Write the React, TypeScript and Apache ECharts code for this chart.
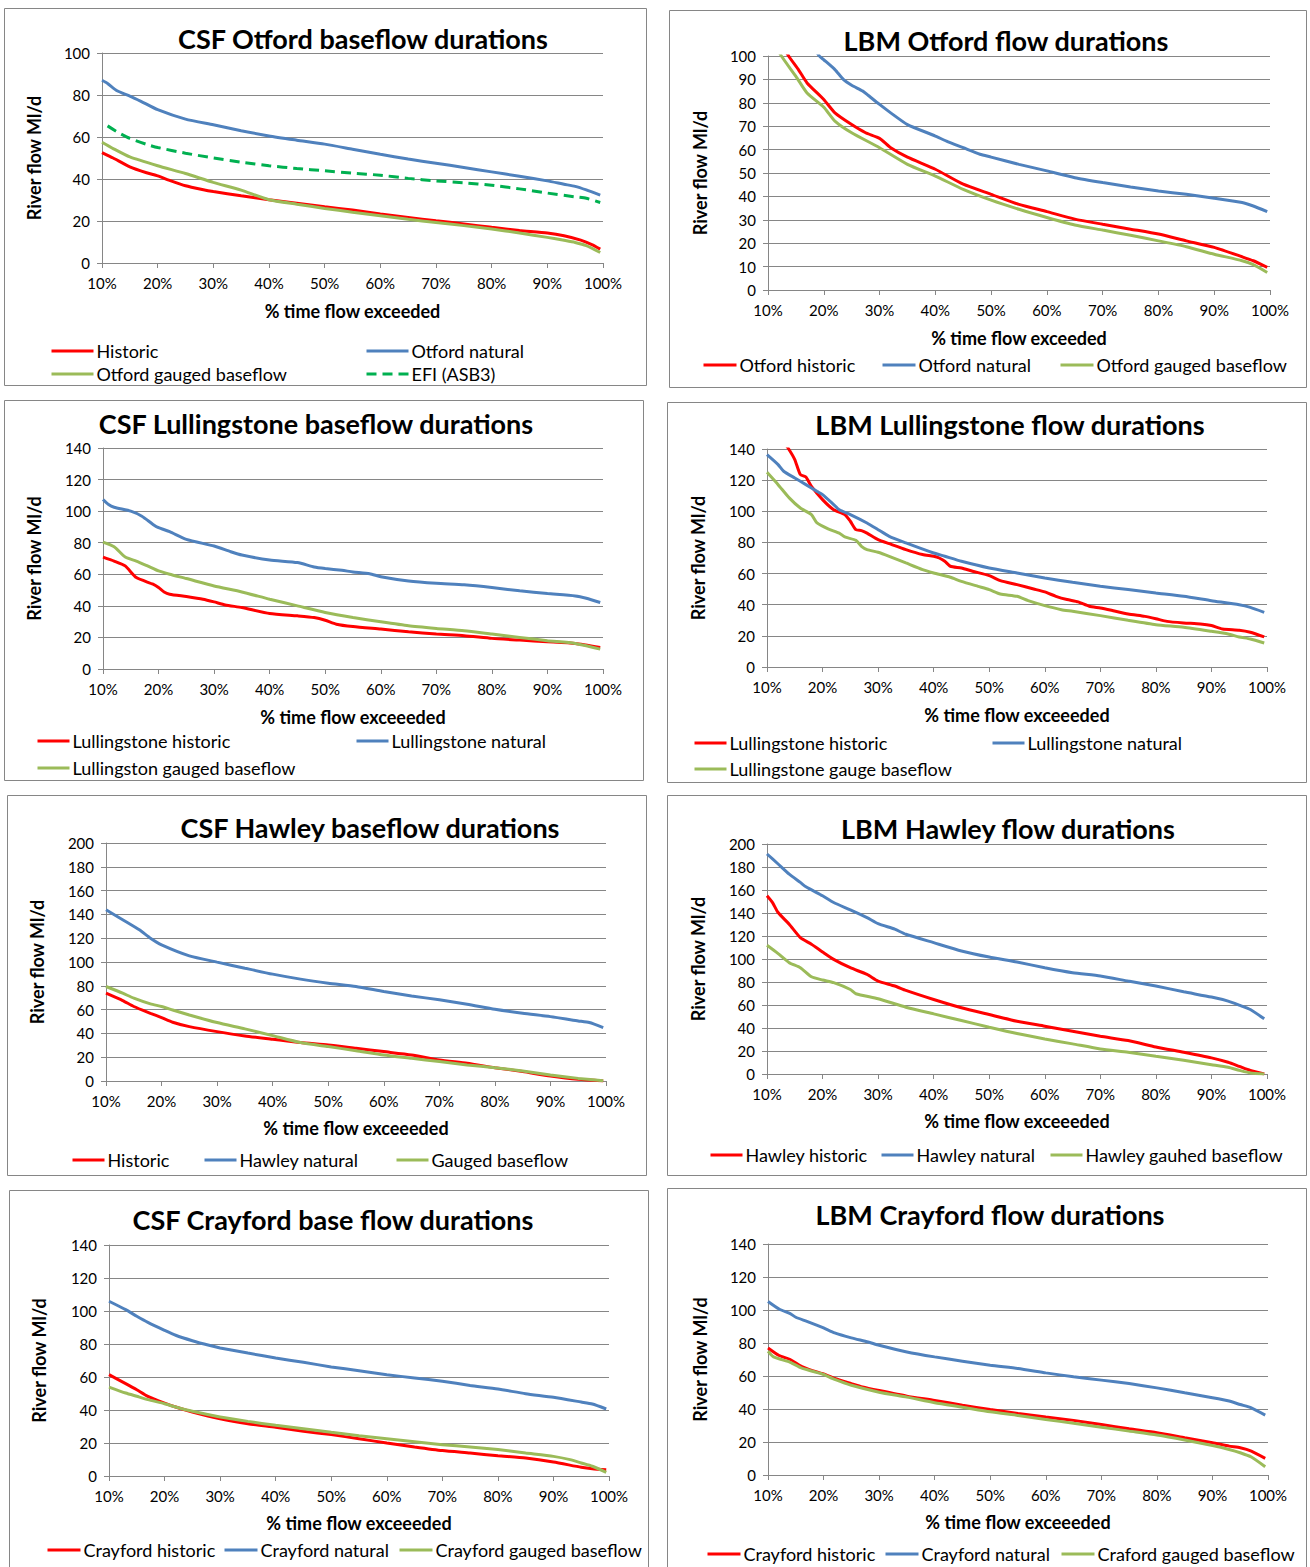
import React, { useEffect, useRef } from "react";
import * as echarts from "echarts";

// ---------- DATA (x = % time flow exceeded, y = river flow Ml/d) ----------
const csfOtfordHistoric = [[10,52.6],[12,50],[15,45.8],[18,43],[20,41.5],[22,39.5],[25,36.8],[28,35],[30,34],[35,32],[40,30.1],[45,28.5],[50,26.8],[55,25.2],[60,23.3],[65,21.7],[70,20.1],[75,18.6],[80,17],[85,15.5],[90,14.3],[93,13],[96,10.9],[98,8.8],[99.5,6.6]];
const csfOtfordNatural = [[10,87],[11,85.5],[12.7,82],[15,79.5],[17,77],[20,73],[25,68.5],[30,65.8],[35,63],[40,60.5],[45,58.5],[50,56.6],[55,54.2],[60,51.8],[65,49.5],[70,47.5],[75,45.5],[80,43.4],[85,41.3],[90,39.1],[93,37.5],[95,36.5],[97,34.8],[99.5,32.3]];
const csfOtfordGauged = [[10,57.5],[12,54.5],[15,50.5],[20,46.3],[25,42.6],[30,38.4],[35,34.7],[40,30.1],[45,28],[50,26],[55,24.2],[60,22.5],[65,20.8],[70,19.3],[75,17.8],[80,16.2],[85,14.3],[90,12.2],[93,10.8],[95,9.8],[97,8.3],[99.5,5]];
const csfOtfordEfi = [[11,65.3],[13,62],[15,59.3],[18,56.5],[20,55],[25,52.3],[30,50],[35,48],[40,46.3],[45,45],[50,43.9],[55,42.8],[60,41.8],[65,40.3],[70,39.1],[75,38.2],[80,37],[85,35.3],[90,33.3],[95,31.5],[97,30.8],[99.5,28.8]];

const lbmOtfordHistoric = [[10,116],[12,107],[13.7,100],[15.5,94],[17,88.5],[20,81.4],[22,75.7],[25,70.7],[27.5,67.2],[30,64.8],[32,60.8],[35,56.8],[40,51.6],[45,45.2],[50,40.9],[55,36.6],[60,33.5],[65,30.3],[70,28.1],[75,26],[80,23.9],[85,21],[90,18.2],[95,14.2],[97,12.5],[99.5,9.7]];
const lbmOtfordNatural = [[10,130],[15,115],[19.2,100],[20,98.4],[22,94.2],[23.5,90],[25,87.5],[27,85],[28,83.1],[30,79.3],[32,75.7],[35,70.7],[40,65.8],[42,63.6],[45,60.8],[48,58],[50,56.8],[55,53.7],[60,50.9],[65,48],[70,45.9],[75,44],[80,42.3],[85,40.9],[90,39.2],[95,37.4],[97,35.9],[99.5,33.5]];
const lbmOtfordGauged = [[10,110],[12.4,100],[15,91.3],[17,84.2],[20,78.1],[22,72.2],[25,67.2],[30,60.8],[35,53.7],[40,48.7],[45,43],[50,38.4],[55,34.5],[60,31],[65,27.8],[70,25.6],[75,23.4],[80,21],[85,18.5],[90,15.3],[95,12.5],[97,10.8],[99.5,7.5]];

const csfLullHistoric = [[10,70.9],[12,68.4],[14,65.3],[16,57.9],[19,53.7],[20,51.6],[21,48.8],[22,47.4],[25,45.9],[28,44.2],[30,42.5],[32,40.6],[35,38.9],[40,35.2],[45,33.7],[48,32.6],[50,30.9],[52,28.4],[55,26.9],[60,25.3],[65,23.6],[70,22.1],[75,21.1],[80,19.4],[85,18.3],[90,17.3],[95,16.2],[99.5,13.7]];
const csfLullNatural = [[10,107.4],[11,104.2],[12,102.5],[15,100],[17,96.8],[19,91.6],[20,89.5],[22,87],[25,82.1],[30,77.9],[33,74.3],[35,72.2],[40,69],[45,67.4],[48,64.6],[50,63.6],[53,62.5],[55,61.5],[58,60.4],[60,58.5],[65,55.8],[70,54.3],[75,53.3],[80,51.6],[85,49.5],[90,47.8],[95,46.3],[97,44.8],[99.5,42.1]];
const csfLullGauged = [[10,80.4],[12,77.5],[14,70.9],[16,68.4],[18,65.3],[20,62.1],[22,60],[25,57.3],[30,52.6],[35,48.8],[40,44.2],[45,40],[50,35.8],[55,32.6],[60,29.9],[65,27.4],[70,25.7],[75,24.2],[80,22.1],[85,20],[90,17.9],[95,16.2],[99.5,12.6]];

const lbmLullHistoric = [[12,150],[13.9,140],[15,133.2],[16,123.6],[17,122],[18,116],[20,107.5],[22,101],[24,97.9],[25,93.6],[26,88.2],[27,87.6],[28,86],[30,81.8],[32,79.2],[35,75.4],[38,72.2],[40,71.1],[41,70],[42,67.9],[43,64.7],[45,63.6],[47,61.5],[50,58.7],[52,55.5],[55,52.9],[58,50.1],[60,48.2],[62,45.4],[64,43.3],[66,41.8],[68,39],[70,37.9],[72,36.4],[75,34],[78,32.5],[80,31],[82,29.3],[85,28.3],[88,27.6],[90,26.6],[92,24.4],[95,23.6],[97,22.3],[99.5,19.3]];
const lbmLullNatural = [[10,136.4],[12,130],[13,125.7],[15,121.4],[17,117.1],[19,112.8],[20,110.7],[22,104.3],[23,101],[25,97.9],[28,92.5],[30,88.2],[32,83.9],[35,79.7],[40,73.2],[42,71.1],[45,67.9],[50,63.6],[55,60.4],[60,57.2],[65,54.4],[70,51.8],[75,49.7],[80,47.5],[85,45.4],[90,42.6],[95,40],[97,38.3],[99.5,35.1]];
const lbmLullGauged = [[10,125],[12,117.1],[14,108.6],[16,102.1],[18,97.9],[19,92.5],[21,88.7],[23,86],[24,83.5],[26,81.4],[27,77.5],[28,75.4],[30,73.7],[32,71.1],[35,66.8],[38,62.5],[40,60.4],[43,57.6],[45,55],[48,51.8],[50,49.7],[52,46.9],[55,45.4],[57,42.6],[60,39.4],[63,36.8],[65,35.8],[70,33],[75,30],[80,27.2],[85,25.5],[90,22.9],[93,21.2],[95,19.3],[97,18],[99.5,15.4]];

const csfHawleyHistoric = [[10,73.8],[13,67.6],[15,62.6],[18,56.9],[20,53.3],[22,49.4],[25,45.7],[30,41.5],[35,37.9],[40,35.1],[45,32.3],[50,30.3],[55,27.5],[60,24.7],[65,21.9],[70,17.7],[75,14.9],[80,11.2],[85,7.9],[90,4.2],[95,1.4],[99.5,0]];
const csfHawleyNatural = [[10,143.9],[13,135.5],[16,127],[18,120],[20,114.4],[25,105.2],[30,99.9],[35,94.8],[40,89.8],[45,85.6],[50,82.2],[55,79.4],[60,75.2],[65,71.5],[70,68.2],[75,64.5],[80,60.3],[85,56.9],[90,54.1],[95,50.5],[97,49.1],[99.5,44.9]];
const csfHawleyGauged = [[10,79.4],[13,73.8],[15,69.6],[18,64.8],[20,62.6],[22,59.7],[25,55.5],[30,49.1],[35,43.8],[40,38.1],[45,32.3],[50,28.9],[55,25.5],[60,21.9],[65,19.1],[70,16.3],[75,13.5],[80,11.2],[85,8.4],[90,5],[95,2.2],[99.5,0.3]];

const lbmHawleyHistoric = [[10,155],[11,149],[12,140.4],[14,130.2],[16,118.6],[18,112.8],[20,106.1],[22,99.7],[25,92.4],[28,86.6],[30,80.8],[33,76.5],[35,72.7],[40,64.8],[45,57.6],[50,51.7],[55,45.9],[60,41.6],[65,37.2],[70,32.8],[75,29.1],[80,23.5],[85,18.9],[90,14],[93,10.2],[95,6.7],[97,3.2],[99.5,0]];
const lbmHawleyNatural = [[10,191.3],[12,182.6],[14,173.8],[16,166.6],[17,162.8],[20,155],[22,149.1],[25,142.7],[28,136],[30,130.8],[33,125.9],[35,121.5],[40,114.2],[45,107],[50,101.7],[55,97.4],[60,92.4],[65,88.1],[70,85.2],[75,80.8],[80,76.5],[85,71.5],[90,66.9],[93,63.4],[95,59.9],[97,56.1],[99.5,48]];
const lbmHawleyGauged = [[10,111.9],[12,104.7],[14,96.8],[16,92.4],[18,84.6],[20,81.7],[22,79.4],[25,73.5],[26,69.8],[30,65.4],[35,58.1],[40,52.3],[45,46.5],[50,40.7],[55,35.2],[60,30.5],[65,26.2],[70,21.8],[75,18.9],[80,15.4],[85,11.9],[90,8.1],[93,5.8],[95,3.2],[97,0.9],[99.5,0]];

const csfCrayHistoric = [[10,61.4],[13,56],[15,52.3],[17,48.3],[20,44.2],[22,41.8],[25,38.8],[30,34.7],[35,31.7],[40,29.5],[45,27.1],[50,25.1],[55,22.6],[60,20],[65,17.6],[70,15.4],[75,13.9],[80,12.3],[85,10.9],[90,8.5],[95,5.3],[97,4.4],[99.5,3.8]];
const csfCrayNatural = [[10,105.9],[13,100.8],[15,96.8],[17,93.1],[20,88.3],[22,85.3],[25,82],[28,79.2],[30,77.6],[35,74.5],[40,71.5],[45,68.9],[50,66.1],[55,63.8],[60,61.4],[65,59.4],[70,57.4],[75,54.9],[80,52.7],[85,49.9],[90,47.7],[95,44.8],[97,43.6],[99.5,40.6]];
const csfCrayGauged = [[10,53.9],[13,50.3],[15,48.3],[17,46.3],[20,43.8],[22,41.8],[25,39.2],[30,35.8],[35,33.1],[40,30.7],[45,28.7],[50,26.5],[55,24.4],[60,22.6],[65,20.8],[70,19],[75,17.6],[80,16],[85,13.9],[90,11.9],[93,9.9],[95,7.9],[97,5.9],[99.5,2.2]];

const lbmCrayHistoric = [[10,77],[12,72.4],[14,70],[16,65.9],[18,63.3],[20,61.3],[22,58.5],[25,55.4],[27,53.4],[30,51.2],[35,47.8],[40,45.2],[45,42.3],[50,39.7],[55,37.3],[60,35.1],[65,33.1],[70,30.6],[75,28],[80,25.6],[85,22.6],[90,19.6],[93,17.5],[95,16.5],[97,14.5],[99.5,10.1]];
const lbmCrayNatural = [[10,105.2],[12,100.6],[14,97.8],[15,95.6],[17,93.1],[20,89.1],[22,86.1],[25,83.1],[28,80.6],[30,78.6],[35,74.6],[40,71.6],[45,69],[50,66.5],[55,64.5],[60,61.9],[65,59.5],[70,57.5],[75,55.4],[80,52.8],[85,49.8],[90,46.8],[93,44.8],[95,42.7],[97,40.7],[99.5,36.3]];
const lbmCrayGauged = [[10,75],[11,71.6],[14,68.3],[16,64.9],[18,62.9],[20,60.9],[22,57.9],[25,54.4],[30,50.2],[35,47.2],[40,43.8],[45,41.1],[50,38.3],[55,36.1],[60,33.7],[65,31.3],[70,29],[75,26.6],[80,24.2],[85,21.2],[90,17.9],[93,15.5],[95,13.5],[97,10.9],[99.5,5]];

// ---------- STYLE / LAYOUT ----------
const RED = "#FF0000";
const BLUE = "#4F81BD";
const GREEN = "#9BBB59";
const EFI_GREEN = "#00B050";
const GRAY = "#868686";
const FONT = "Lato, 'Open Sans', sans-serif";

type S = { name: string; data: number[][]; color: string; dashed?: boolean };
type L = { name: string; x: number; y: number };
type P = {
  title: string; tx: number; ty: number;
  box: [number, number, number, number];
  grid: [number, number, number, number];
  yMax: number; yInt: number;
  xName: string; xNameY: number; yNameX: number; legW: number;
  series: S[]; legends: L[];
};

const panels: P[] = [
  {
    title: "CSF Otford baseflow durations", tx: 363, ty: 38,
    box: [4, 8, 646, 385], grid: [102, 53, 603, 263], yMax: 100, yInt: 20,
    xName: "% time flow exceeded", xNameY: 312, yNameX: 33, legW: 42,
    series: [
      { name: "Historic", data: csfOtfordHistoric, color: RED },
      { name: "Otford natural", data: csfOtfordNatural, color: BLUE },
      { name: "Otford gauged baseflow", data: csfOtfordGauged, color: GREEN },
      { name: "EFI (ASB3)", data: csfOtfordEfi, color: EFI_GREEN, dashed: true },
    ],
    legends: [
      { name: "Historic", x: 50, y: 350 },
      { name: "Otford natural", x: 365, y: 350 },
      { name: "Otford gauged baseflow", x: 50, y: 373 },
      { name: "EFI (ASB3)", x: 365, y: 373 },
    ],
  },
  {
    title: "LBM Otford flow durations", tx: 1006, ty: 40,
    box: [669, 10, 1306, 387], grid: [768, 56, 1270, 290], yMax: 100, yInt: 10,
    xName: "% time flow exceeded", xNameY: 339, yNameX: 699, legW: 33,
    series: [
      { name: "Otford historic", data: lbmOtfordHistoric, color: RED },
      { name: "Otford natural", data: lbmOtfordNatural, color: BLUE },
      { name: "Otford gauged baseflow", data: lbmOtfordGauged, color: GREEN },
    ],
    legends: [
      { name: "Otford historic", x: 702, y: 364 },
      { name: "Otford natural", x: 881, y: 364 },
      { name: "Otford gauged baseflow", x: 1059, y: 364 },
    ],
  },
  {
    title: "CSF Lullingstone baseflow durations", tx: 316, ty: 423,
    box: [4, 400, 643, 780], grid: [103, 448, 603, 669], yMax: 140, yInt: 20,
    xName: "% time flow exceeeded", xNameY: 718, yNameX: 33, legW: 32,
    series: [
      { name: "Lullingstone historic", data: csfLullHistoric, color: RED },
      { name: "Lullingstone natural", data: csfLullNatural, color: BLUE },
      { name: "Lullingston gauged baseflow", data: csfLullGauged, color: GREEN },
    ],
    legends: [
      { name: "Lullingstone historic", x: 36, y: 740 },
      { name: "Lullingstone natural", x: 355, y: 740 },
      { name: "Lullingston gauged baseflow", x: 36, y: 767 },
    ],
  },
  {
    title: "LBM Lullingstone flow durations", tx: 1010, ty: 424,
    box: [667, 402, 1306, 782], grid: [767, 449, 1267, 667], yMax: 140, yInt: 20,
    xName: "% time flow exceeeded", xNameY: 716, yNameX: 697, legW: 32,
    series: [
      { name: "Lullingstone historic", data: lbmLullHistoric, color: RED },
      { name: "Lullingstone natural", data: lbmLullNatural, color: BLUE },
      { name: "Lullingstone gauge baseflow", data: lbmLullGauged, color: GREEN },
    ],
    legends: [
      { name: "Lullingstone historic", x: 693, y: 742 },
      { name: "Lullingstone natural", x: 991, y: 742 },
      { name: "Lullingstone gauge baseflow", x: 693, y: 768 },
    ],
  },
  {
    title: "CSF Hawley baseflow durations", tx: 370, ty: 827,
    box: [7, 795, 646, 1175], grid: [106, 843, 606, 1081], yMax: 200, yInt: 20,
    xName: "% time flow exceeeded", xNameY: 1129, yNameX: 36, legW: 32,
    series: [
      { name: "Historic", data: csfHawleyHistoric, color: RED },
      { name: "Hawley natural", data: csfHawleyNatural, color: BLUE },
      { name: "Gauged baseflow", data: csfHawleyGauged, color: GREEN },
    ],
    legends: [
      { name: "Historic", x: 71, y: 1159 },
      { name: "Hawley natural", x: 203, y: 1159 },
      { name: "Gauged baseflow", x: 395, y: 1159 },
    ],
  },
  {
    title: "LBM Hawley flow durations", tx: 1008, ty: 828,
    box: [667, 795, 1306, 1175], grid: [767, 844, 1267, 1074], yMax: 200, yInt: 20,
    xName: "% time flow exceeeded", xNameY: 1122, yNameX: 697, legW: 32,
    series: [
      { name: "Hawley historic", data: lbmHawleyHistoric, color: RED },
      { name: "Hawley natural", data: lbmHawleyNatural, color: BLUE },
      { name: "Hawley gauhed baseflow", data: lbmHawleyGauged, color: GREEN },
    ],
    legends: [
      { name: "Hawley historic", x: 709, y: 1154 },
      { name: "Hawley natural", x: 880, y: 1154 },
      { name: "Hawley gauhed baseflow", x: 1049, y: 1154 },
    ],
  },
  {
    title: "CSF Crayford base flow durations", tx: 333, ty: 1219,
    box: [9, 1190, 648, 1580], grid: [109, 1245, 609, 1476], yMax: 140, yInt: 20,
    xName: "% time flow exceeeded", xNameY: 1524, yNameX: 38, legW: 33,
    series: [
      { name: "Crayford historic", data: csfCrayHistoric, color: RED },
      { name: "Crayford natural", data: csfCrayNatural, color: BLUE },
      { name: "Crayford gauged baseflow", data: csfCrayGauged, color: GREEN },
    ],
    legends: [
      { name: "Crayford historic", x: 46, y: 1549 },
      { name: "Crayford natural", x: 223, y: 1549 },
      { name: "Crayford gauged baseflow", x: 398, y: 1549 },
    ],
  },
  {
    title: "LBM Crayford flow durations", tx: 990, ty: 1214,
    box: [667, 1188, 1306, 1580], grid: [768, 1244, 1268, 1475], yMax: 140, yInt: 20,
    xName: "% time flow exceeeded", xNameY: 1523, yNameX: 699, legW: 33,
    series: [
      { name: "Crayford historic", data: lbmCrayHistoric, color: RED },
      { name: "Crayford natural", data: lbmCrayNatural, color: BLUE },
      { name: "Craford gauged baseflow", data: lbmCrayGauged, color: GREEN },
    ],
    legends: [
      { name: "Crayford historic", x: 706, y: 1553 },
      { name: "Crayford natural", x: 884, y: 1553 },
      { name: "Craford gauged baseflow", x: 1060, y: 1553 },
    ],
  },
];

function buildOption() {
  const grid: any[] = [];
  const xAxis: any[] = [];
  const yAxis: any[] = [];
  const series: any[] = [];
  const legend: any[] = [];
  const graphic: any[] = [];

  panels.forEach((p, i) => {
    const [gl, gt, gr, gb] = p.grid;
    grid.push({ left: gl, top: gt, width: gr - gl, height: gb - gt, containLabel: false });
    xAxis.push({
      type: "value", gridIndex: i, min: 10, max: 100, interval: 10,
      axisLabel: { formatter: "{value}%", fontSize: 15, color: "#000", fontFamily: FONT, margin: 12 },
      axisLine: { show: true, lineStyle: { color: GRAY, width: 1 } },
      axisTick: { show: true, length: 5, lineStyle: { color: GRAY } },
      splitLine: { show: false },
      name: p.xName, nameLocation: "middle", nameGap: p.xNameY - 10 - gb,
      nameTextStyle: { fontSize: 18, fontWeight: "bold", color: "#000", fontFamily: FONT },
    });
    yAxis.push({
      type: "value", gridIndex: i, min: 0, max: p.yMax, interval: p.yInt,
      axisLabel: { fontSize: 15, color: "#000", fontFamily: FONT, margin: 12 },
      axisLine: { show: true, lineStyle: { color: GRAY, width: 1 } },
      axisTick: { show: true, length: 5, lineStyle: { color: GRAY } },
      splitLine: { show: true, lineStyle: { color: GRAY, width: 1 } },
      name: "River flow Ml/d", nameLocation: "middle", nameRotate: 90,
      nameGap: gl - p.yNameX - 10,
      nameTextStyle: { fontSize: 18, fontWeight: "bold", color: "#000", fontFamily: FONT },
    });
    p.series.forEach((s) => {
      series.push({
        type: "line", name: s.name, xAxisIndex: i, yAxisIndex: i,
        data: s.data, showSymbol: false, symbol: "none",
        smooth: 0.2, clip: true, color: s.color,
        lineStyle: { color: s.color, width: 3, type: s.dashed ? [10, 6] : "solid", cap: "butt" },
        emphasis: { disabled: true },
      });
    });
    p.legends.forEach((l) => {
      const dashed = p.series.some((s) => s.name === l.name && s.dashed);
      legend.push({
        data: [l.name], left: l.x, top: l.y - 8, itemWidth: p.legW, itemHeight: 16,
        selectedMode: false, padding: 0,
        itemStyle: { opacity: 0 },
        lineStyle: { width: 3, type: dashed ? [10, 6] : "solid", cap: "butt" },
        textStyle: { fontSize: 18, color: "#000", fontFamily: FONT, padding: [0, 0, 0, -2] },
      });
    });
    const [bx1, by1, bx2, by2] = p.box;
    graphic.push({
      type: "rect", silent: true, z: -1,
      shape: { x: bx1 + 0.5, y: by1 + 0.5, width: bx2 - bx1, height: by2 - by1 },
      style: { fill: "#fff", stroke: GRAY, lineWidth: 1 },
    });
    graphic.push({
      type: "text", silent: true, x: p.tx, y: p.ty,
      style: {
        text: p.title, textAlign: "center", textVerticalAlign: "middle",
        font: `bold 27px ${FONT}`, fill: "#000",
      },
    });
  });

  return {
    animation: false,
    backgroundColor: "#fff",
    grid, xAxis, yAxis, series, legend, graphic,
  };
}

export default function App() {
  const ref = useRef<HTMLDivElement>(null);
  useEffect(() => {
    if (!ref.current) return;
    const chart = echarts.init(ref.current, undefined, { renderer: "svg" });
    chart.setOption(buildOption());
    return () => chart.dispose();
  }, []);
  return (
    <div
      ref={ref}
      style={{ position: "absolute", left: 0, top: 0, width: 1310, height: 1567, background: "#fff" }}
    />
  );
}
